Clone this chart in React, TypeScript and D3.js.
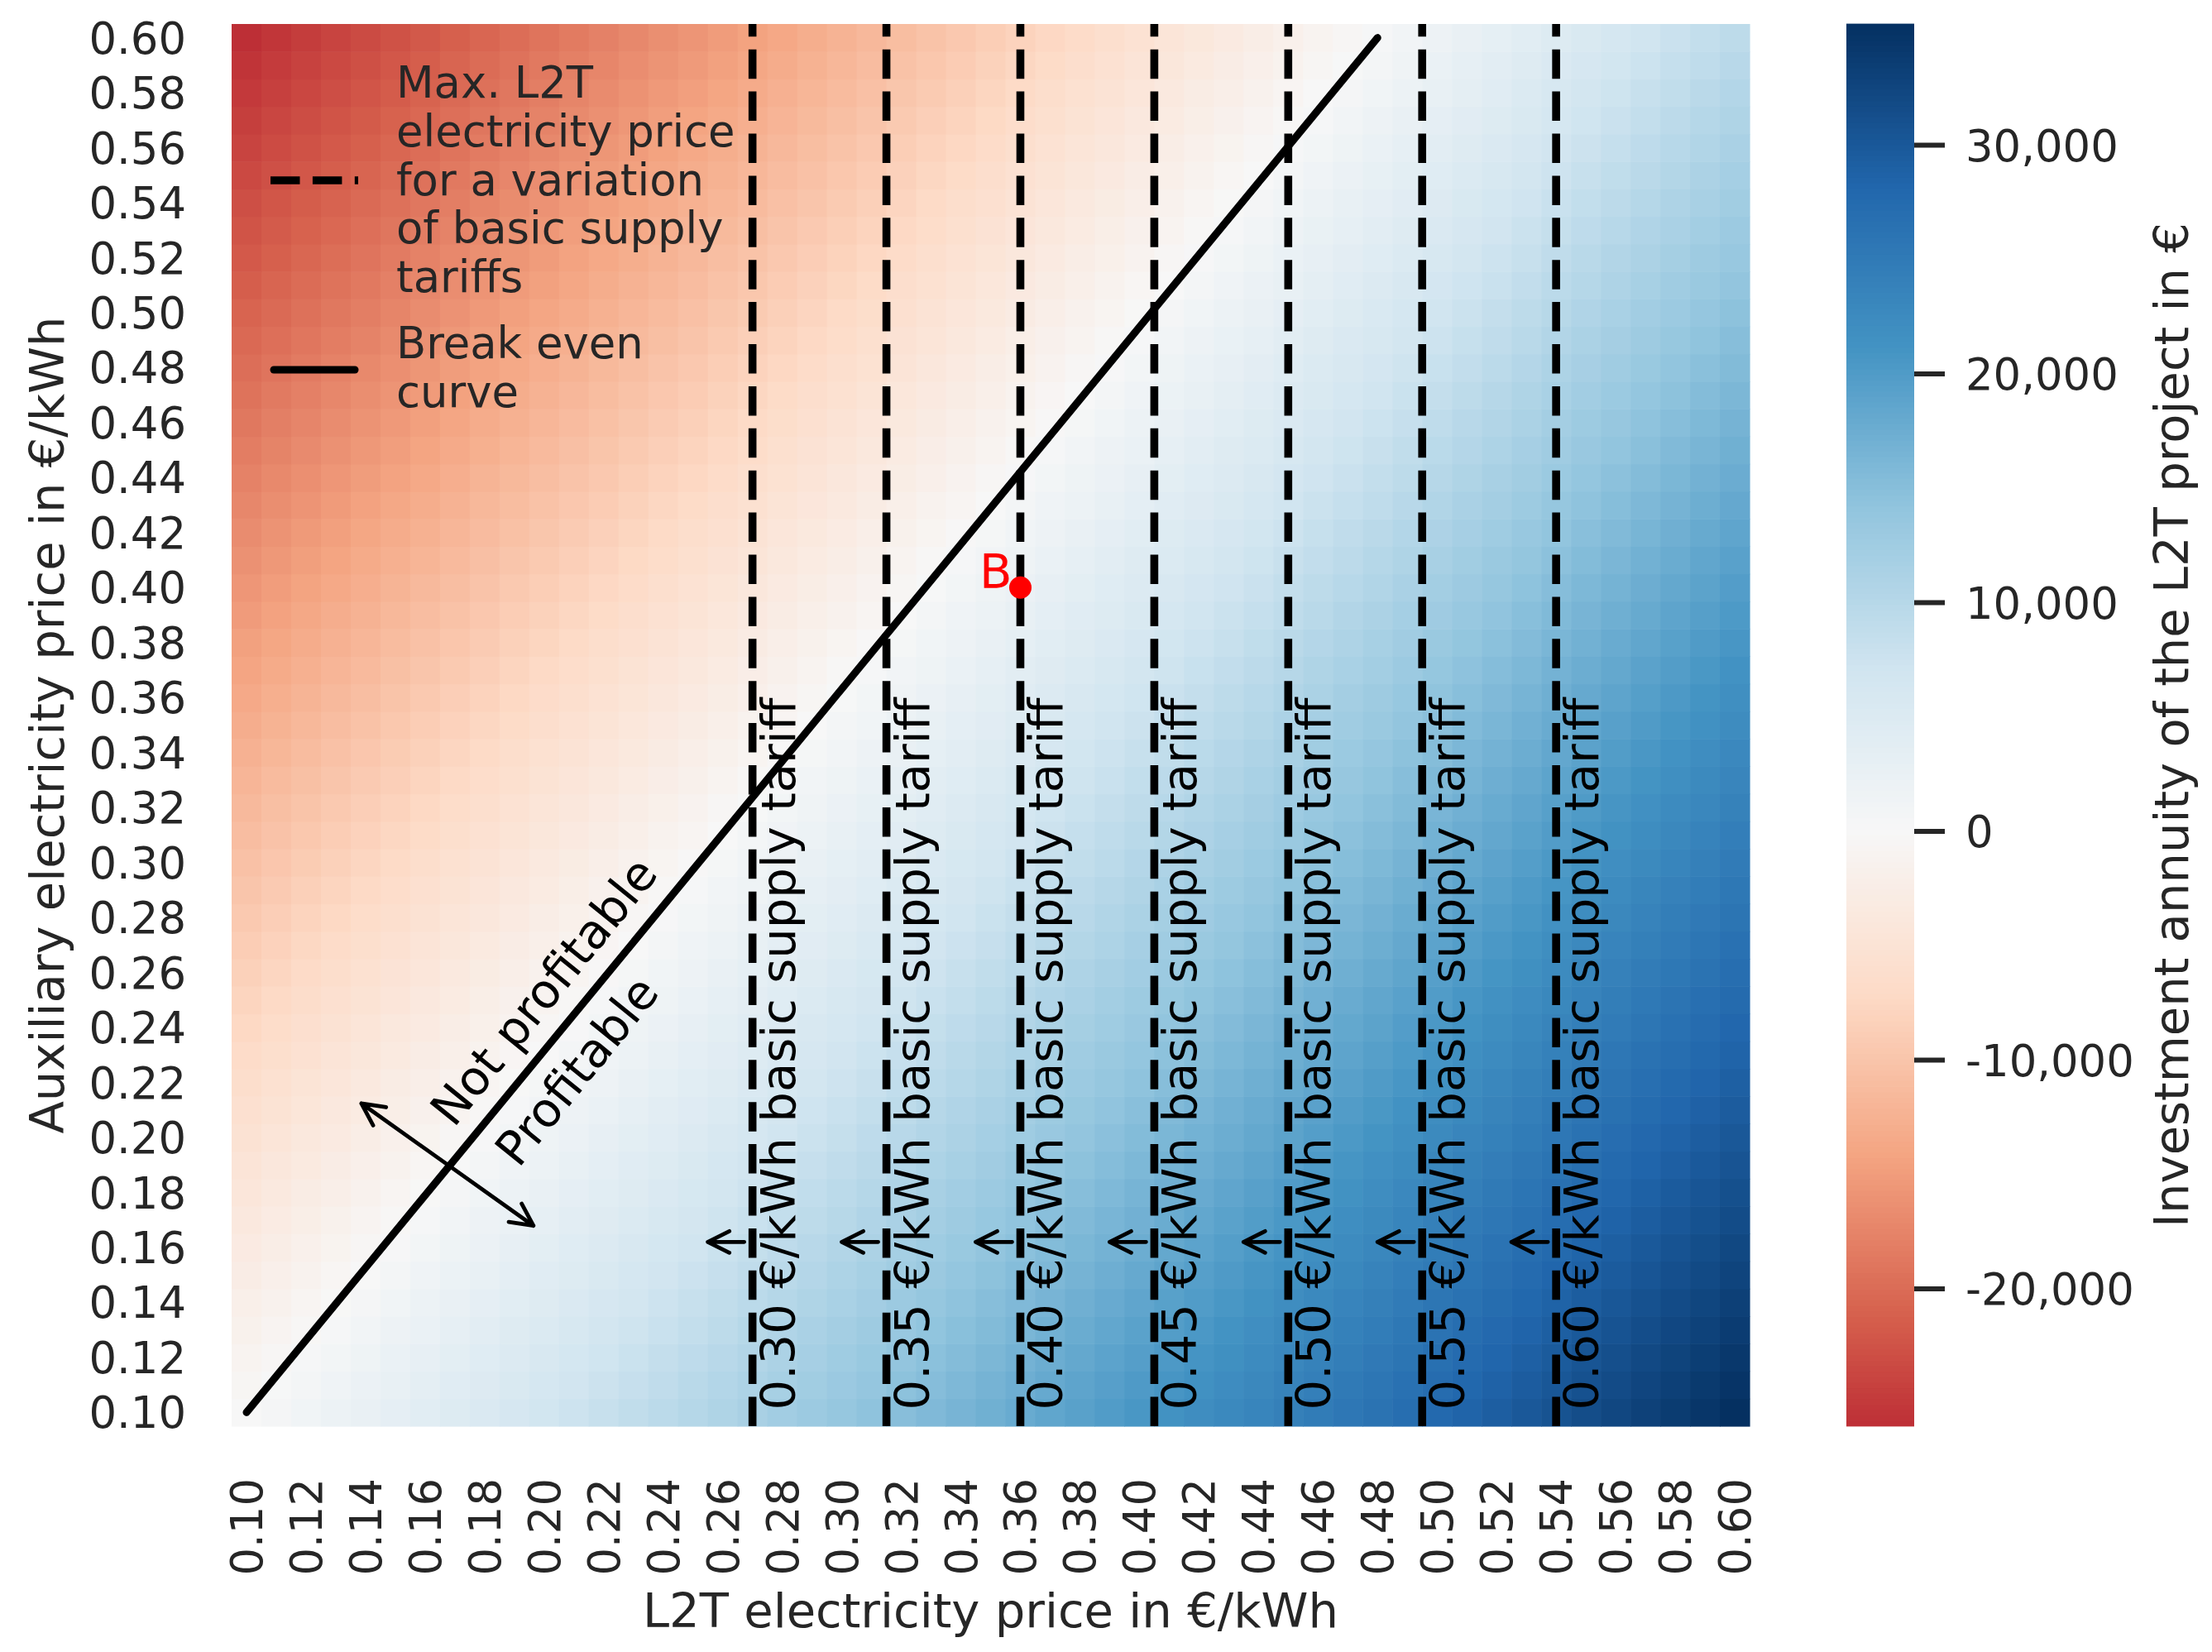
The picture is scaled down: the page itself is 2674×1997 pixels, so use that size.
import React from "react";
import * as d3 from "d3";

// price grid of the heatmap (€/kWh)
const l2tPrices = [
  0.1, 0.11, 0.12, 0.13, 0.14, 0.15, 0.16, 0.17, 0.18, 0.19, 0.2, 0.21, 0.22, 0.23, 0.24, 0.25, 0.26,
  0.27, 0.28, 0.29, 0.3, 0.31, 0.32, 0.33, 0.34, 0.35, 0.36, 0.37, 0.38, 0.39, 0.4, 0.41, 0.42, 0.43,
  0.44, 0.45, 0.46, 0.47, 0.48, 0.49, 0.5, 0.51, 0.52, 0.53, 0.54, 0.55, 0.56, 0.57, 0.58, 0.59, 0.6,
];
const auxPrices = [
  0.1, 0.11, 0.12, 0.13, 0.14, 0.15, 0.16, 0.17, 0.18, 0.19, 0.2, 0.21, 0.22, 0.23, 0.24, 0.25, 0.26,
  0.27, 0.28, 0.29, 0.3, 0.31, 0.32, 0.33, 0.34, 0.35, 0.36, 0.37, 0.38, 0.39, 0.4, 0.41, 0.42, 0.43,
  0.44, 0.45, 0.46, 0.47, 0.48, 0.49, 0.5, 0.51, 0.52, 0.53, 0.54, 0.55, 0.56, 0.57, 0.58, 0.59, 0.6,
];

// annuity along the bottom row (aux price 0.10) for every L2T price
const annuityBottomRow = [
  -50, 635, 1320, 2005, 2690, 3375, 4060, 4745, 5430, 6115, 6800, 7485, 8170, 8855, 9540, 10225,
  10910, 11595, 12280, 12965, 13650, 14350, 15050, 15750, 16450, 17150, 17850, 18550, 19250, 19950,
  20650, 21350, 22050, 22750, 23450, 24150, 24850, 25550, 26250, 27000, 27760, 28510, 29260, 30020,
  30770, 31530, 32280, 33040, 33790, 34550, 35300,
];
// annuity along the left column (L2T price 0.10) for every aux price
const annuityLeftColumn = [
  -50, -570, -1090, -1610, -2130, -2650, -3160, -3680, -4200, -4720, -5240, -5760, -6280, -6800,
  -7320, -7840, -8350, -8870, -9390, -9910, -10430, -10950, -11470, -11990, -12510, -13030, -13540,
  -14060, -14580, -15100, -15620, -16140, -16660, -17180, -17700, -18220, -18730, -19250, -19770,
  -20290, -20810, -21330, -21850, -22370, -22890, -23410, -23920, -24440, -24960, -25480, -26000,
];

const tariffs = [0.3, 0.35, 0.4, 0.45, 0.5, 0.55, 0.6];
const maxL2TPrices = [0.27, 0.315, 0.36, 0.405, 0.45, 0.495, 0.54];

const breakEvenAux = [0.1, 0.15, 0.2, 0.25, 0.3, 0.35, 0.4, 0.45, 0.5, 0.55, 0.6];
const breakEvenL2T = [0.1, 0.138, 0.176, 0.214, 0.252, 0.29, 0.328, 0.366, 0.404, 0.442, 0.48];

const pointB = { l2t: 0.36, aux: 0.4 };
const cbarTicks = [30000, 20000, 10000, 0, -10000, -20000];

const rdbu = [
  "#67001f", "#b2182b", "#d6604d", "#f4a582", "#fddbc7", "#f7f7f7",
  "#d1e5f0", "#92c5de", "#4393c3", "#2166ac", "#053061",
];

const W = 2674;
const H = 1997;
const left = 280;
const right = 2115;
const top = 29;
const bottom = 1724;
const cbLeft = 2232;
const cbRight = 2314;

const font = "DejaVu Sans";
const ink = "#262626";

const fmt2 = d3.format(".2f");
const cbLocale = d3.formatLocale({ decimal: ".", thousands: ",", grouping: [3], currency: ["", ""], minus: "-" });
const fmtCbar = cbLocale.format(",");

const arrowHead = (tx: number, ty: number, dx: number, dy: number, len = 27, half = 13.5) => {
  const n = Math.hypot(dx, dy);
  const ux = dx / n;
  const uy = dy / n;
  const bx = tx - ux * len;
  const by = ty - uy * len;
  return `M${bx - uy * half},${by + ux * half}L${tx},${ty}L${bx + uy * half},${by - ux * half}`;
};

const App = () => {
  const x = d3.scaleBand<number>().domain(l2tPrices).range([left, right]);
  const y = d3.scaleBand<number>().domain([...auxPrices].reverse()).range([top, bottom]);
  const bw = x.bandwidth();
  const bh = y.bandwidth();
  const xPos = d3.scaleLinear().domain([0.1, 0.6]).range([x(0.1)! + bw / 2, x(0.6)! + bw / 2]);
  const yPos = d3.scaleLinear().domain([0.1, 0.6]).range([y(0.1)! + bh / 2, y(0.6)! + bh / 2]);

  const cells = auxPrices.flatMap((a, j) =>
    l2tPrices.map((p, i) => ({
      p,
      a,
      v: annuityBottomRow[i] + annuityLeftColumn[j] - annuityBottomRow[0],
    }))
  );
  const vmin = d3.min(cells, (d) => d.v)!;
  const vmax = d3.max(cells, (d) => d.v)!;
  const vrange = Math.max(vmax, -vmin);
  const color = d3
    .scaleLinear<string>()
    .domain(rdbu.map((_, k) => -vrange + (2 * vrange * k) / (rdbu.length - 1)))
    .range(rdbu)
    .interpolate(d3.interpolateRgb)
    .clamp(true);

  const cbY = d3.scaleLinear().domain([vmin, vmax]).range([bottom, top]);
  const nSteps = 256;
  const cbSteps = d3.range(nSteps).map((k) => vmin + ((vmax - vmin) * k) / nSteps);
  const step = (vmax - vmin) / nSteps;

  const breakEven = d3
    .line<number>()
    .x((_, i) => xPos(breakEvenL2T[i]))
    .y((d) => yPos(d));

  const arrowY = yPos(0.162);
  const dblA = [xPos(0.1386), yPos(0.2124)];
  const dblB = [xPos(0.1964), yPos(0.1679)];

  const legendTop = ["Max. L2T", "electricity price", "for a variation", "of basic supply", "tariffs"];
  const legendBottom = ["Break even", "curve"];
  const lineGap = 58.75;

  return (
    <svg width={W} height={H} style={{ position: "absolute", left: 0, top: 0, background: "#fff" }} fontFamily={font}>
      <g>
        {cells.map((d, k) => (
          <rect key={k} x={x(d.p)} y={y(d.a)} width={bw + 0.6} height={bh + 0.6} fill={color(d.v)} />
        ))}
      </g>

      {/* tariff lines */}
      {maxL2TPrices.map((p, k) => (
        <g key={k}>
          <line x1={xPos(p)} x2={xPos(p)} y1={bottom} y2={top} stroke="#000" strokeWidth={9.6} strokeDasharray="35.5 15.4" />
          <path
            d={`M${xPos(p) - 10},${arrowY}L${xPos(p) - 54},${arrowY}` + arrowHead(xPos(p) - 54, arrowY, -1, 0, 26, 13)}
            fill="none"
            stroke="#000"
            strokeWidth={4.8}
            strokeLinecap="round"
            strokeLinejoin="round"
          />
          <text
            transform={`translate(${xPos(p) + 51},${yPos(0.1) - 3}) rotate(-90)`}
            fontSize={57.6}
            fill="#000"
          >
            {`${fmt2(tariffs[k])} €/kWh basic supply tariff`}
          </text>
        </g>
      ))}

      {/* break even curve */}
      <path d={breakEven(breakEvenAux)!} fill="none" stroke="#000" strokeWidth={9} strokeLinecap="round" />

      {/* profitability annotation */}
      <path
        d={`M${dblA[0]},${dblA[1]}L${dblB[0]},${dblB[1]}` +
          arrowHead(dblA[0], dblA[1], dblA[0] - dblB[0], dblA[1] - dblB[1]) +
          arrowHead(dblB[0], dblB[1], dblB[0] - dblA[0], dblB[1] - dblA[1])}
        fill="none"
        stroke="#000"
        strokeWidth={4.8}
        strokeLinecap="round"
        strokeLinejoin="round"
      />
      <text transform={`translate(${xPos(0.2042)},${yPos(0.2494)}) rotate(-51)`} textAnchor="middle" fontSize={57.6} fill="#000">
        Not profitable
      </text>
      <text transform={`translate(${xPos(0.2153)},${yPos(0.2205)}) rotate(-51)`} textAnchor="middle" fontSize={57.6} fill="#000">
        Profitable
      </text>

      {/* point B */}
      <circle cx={xPos(pointB.l2t)} cy={yPos(pointB.aux)} r={13.5} fill="#ff0000" />
      <text x={xPos(pointB.l2t) - 10} y={yPos(pointB.aux) + 1} textAnchor="end" fontSize={57.6} fill="#ff0000">
        B
      </text>

      {/* legend */}
      <line x1={327} x2={433} y1={218} y2={218} stroke="#000" strokeWidth={9.6} strokeDasharray="35.5 15.4" />
      <line x1={331} x2={429} y1={447} y2={447} stroke="#000" strokeWidth={9} strokeLinecap="round" />
      {legendTop.map((t, k) => (
        <text key={t} x={479} y={118 + k * lineGap} fontSize={52.8} fill={ink}>
          {t}
        </text>
      ))}
      {legendBottom.map((t, k) => (
        <text key={t} x={479} y={433 + k * lineGap} fontSize={52.8} fill={ink}>
          {t}
        </text>
      ))}

      {/* x axis */}
      {l2tPrices
        .filter((_, i) => i % 2 === 0)
        .map((p) => (
          <text
            key={p}
            transform={`translate(${x(p)! + bw / 2},1787) rotate(-90)`}
            textAnchor="end"
            dy="0.36em"
            fontSize={52.8}
            fill={ink}
          >
            {fmt2(p)}
          </text>
        ))}
      <text x={(left + right) / 2} y={1967} textAnchor="middle" fontSize={57.6} fill={ink}>
        L2T electricity price in €/kWh
      </text>

      {/* y axis */}
      {auxPrices
        .filter((_, i) => i % 2 === 0)
        .map((a) => (
          <text key={a} x={225} y={y(a)! + bh / 2} dy="0.36em" textAnchor="end" fontSize={52.8} fill={ink}>
            {fmt2(a)}
          </text>
        ))}
      <text transform={`translate(77,${(top + bottom) / 2}) rotate(-90)`} textAnchor="middle" fontSize={57.6} fill={ink}>
        Auxiliary electricity price in €/kWh
      </text>

      {/* colorbar */}
      <g>
        {cbSteps.map((v, k) => (
          <rect
            key={k}
            x={cbLeft}
            y={cbY(v + step) - 0.4}
            width={cbRight - cbLeft}
            height={cbY(v) - cbY(v + step) + 0.8}
            fill={color(v + step / 2)}
          />
        ))}
      </g>
      {cbarTicks.map((t) => (
        <g key={t}>
          <line x1={cbRight} x2={cbRight + 37} y1={cbY(t)} y2={cbY(t)} stroke={ink} strokeWidth={6} />
          <text x={2376} y={cbY(t)} dy="0.36em" fontSize={52.8} fill={ink}>
            {fmtCbar(t)}
          </text>
        </g>
      ))}
      <text transform={`translate(2645,${(top + bottom) / 2}) rotate(-90)`} textAnchor="middle" fontSize={57.6} fill={ink}>
        Investment annuity of the L2T project in €
      </text>
    </svg>
  );
};

export default App;
